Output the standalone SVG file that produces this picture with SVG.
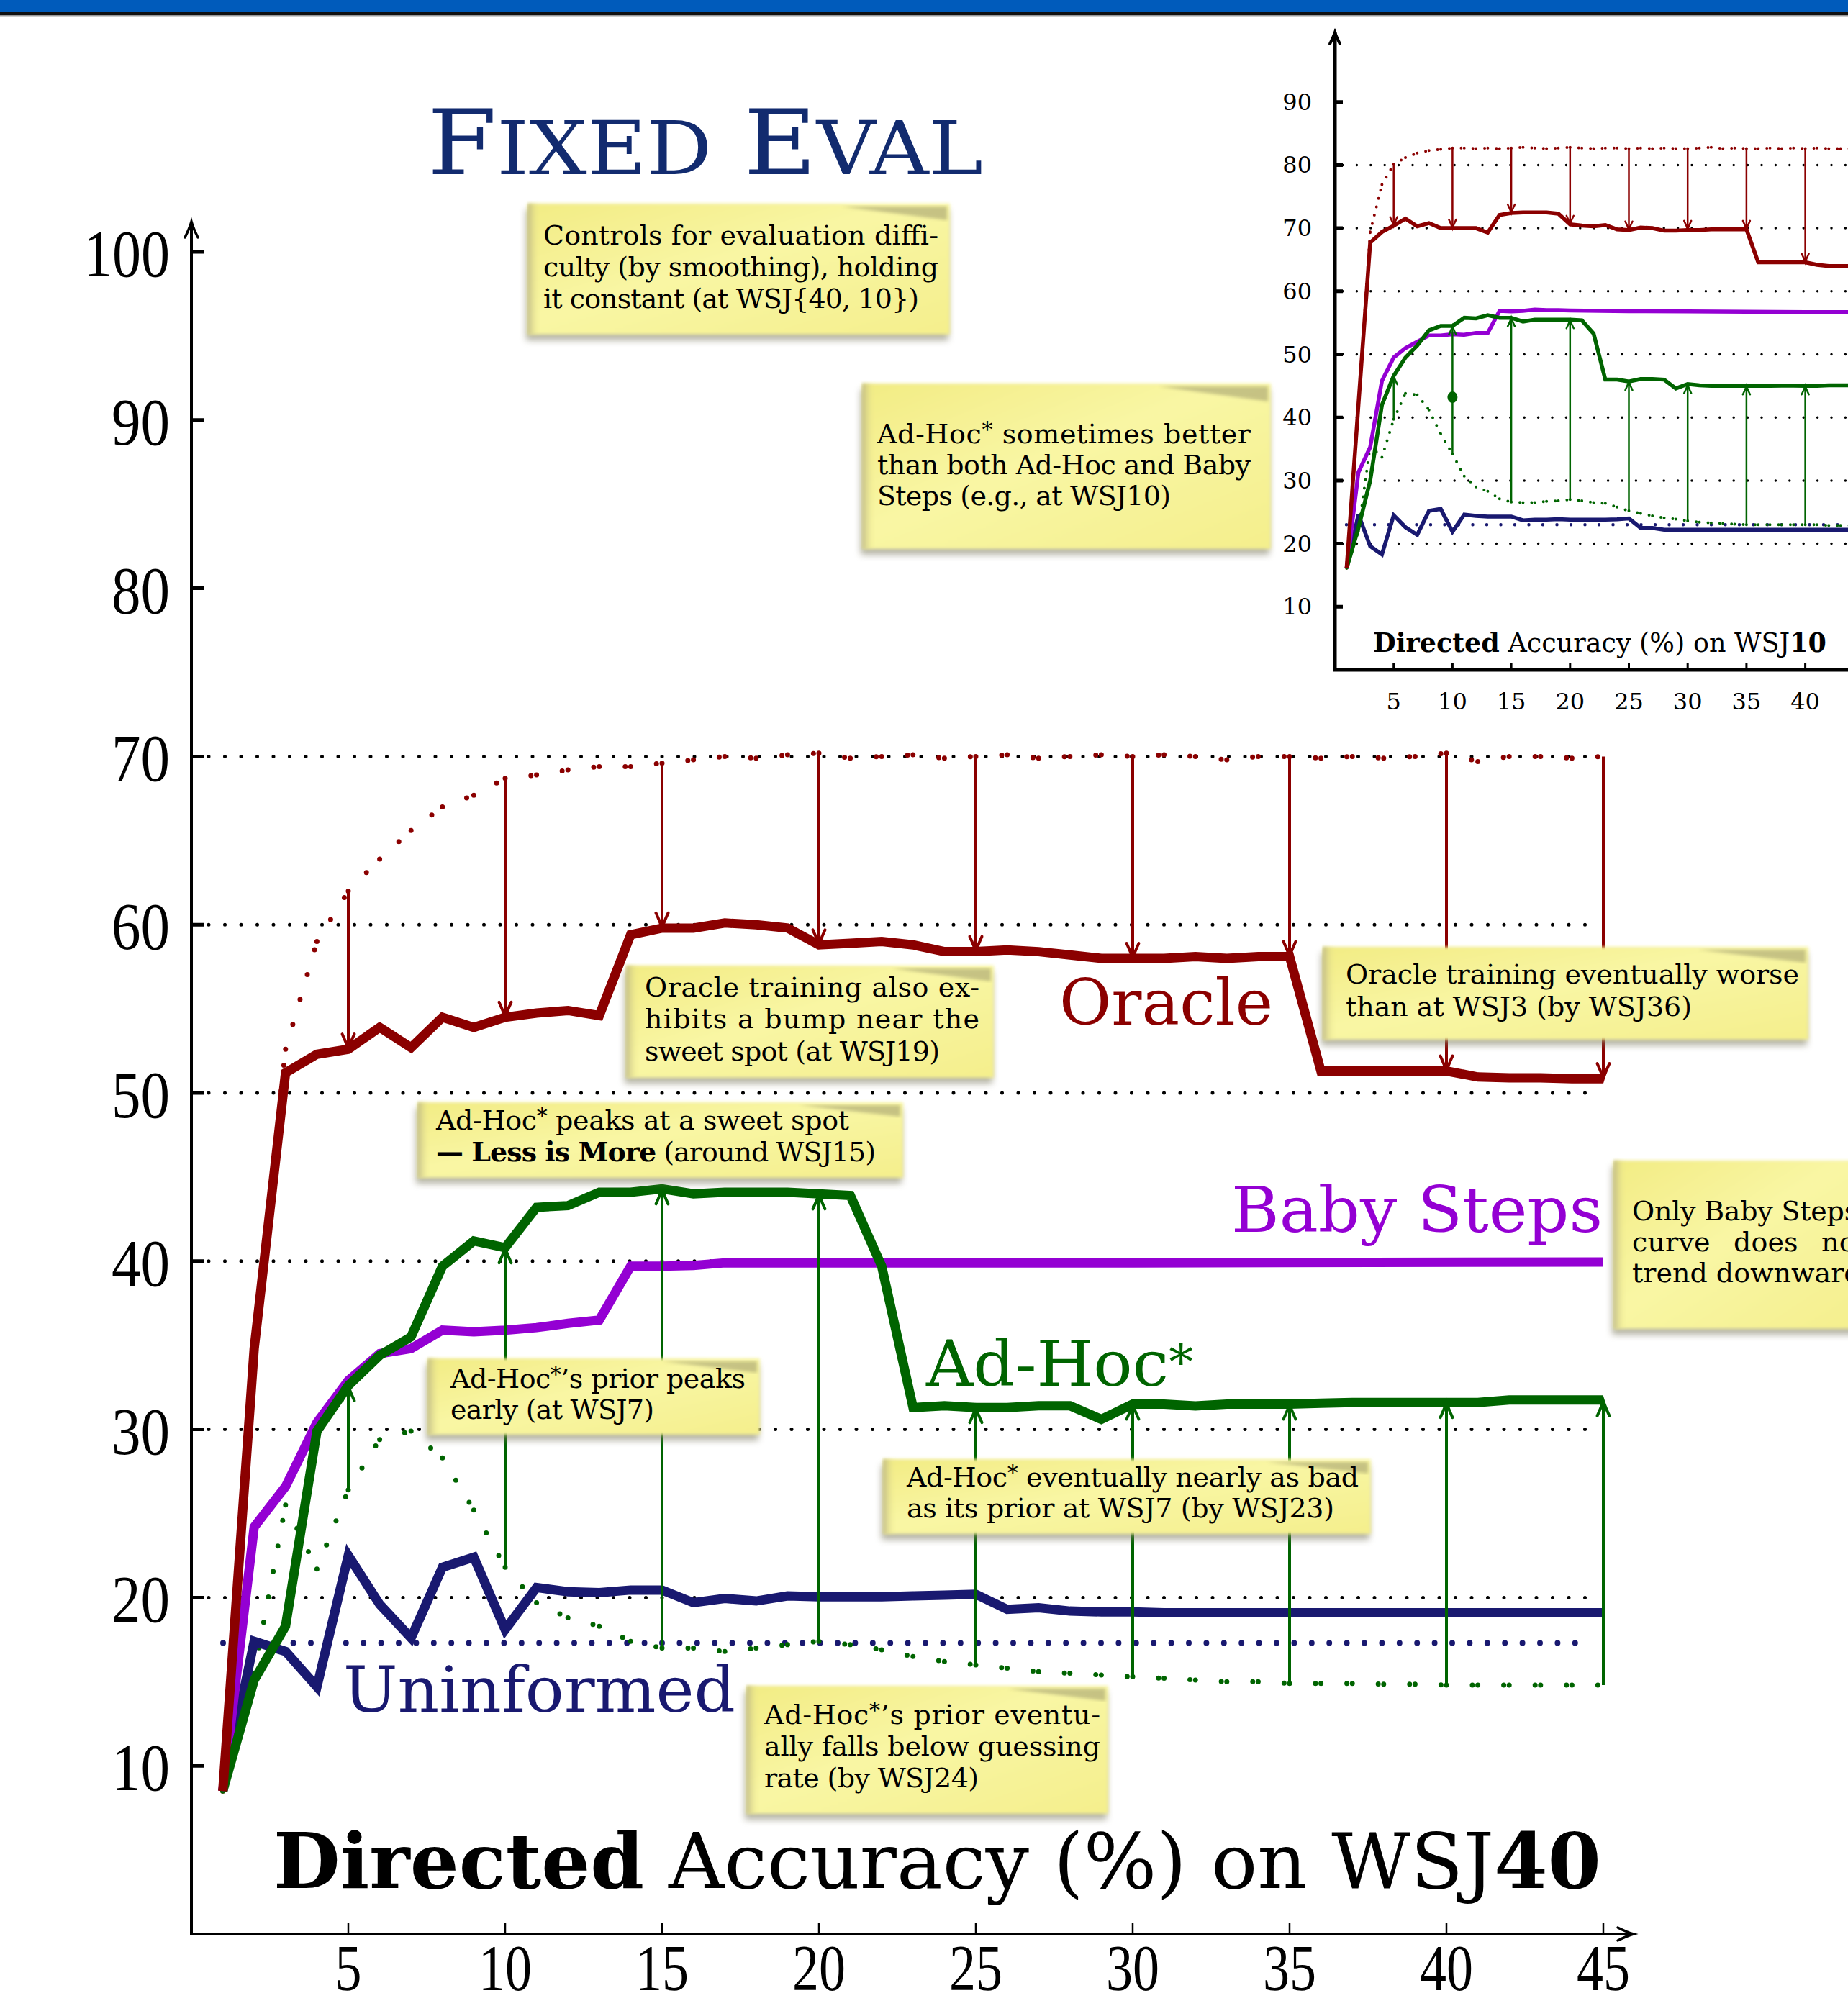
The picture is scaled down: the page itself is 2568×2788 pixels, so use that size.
<svg xmlns="http://www.w3.org/2000/svg" width="2568" height="2788" viewBox="0 0 2568 2788">
<style>
.ax{stroke:#000;fill:none}
.grid{stroke:#000;stroke-width:5;stroke-linecap:round;stroke-dasharray:0 22.5;fill:none}
.gridi{stroke:#000;stroke-width:3.5;stroke-linecap:round;stroke-dasharray:0 19.4;fill:none}
.c{fill:none;vector-effect:non-scaling-stroke;stroke-linejoin:miter;stroke-miterlimit:3}
.thick{stroke-width:13}
.thin{stroke-width:5.5}
.dot{stroke-width:7;stroke-linecap:round;stroke-dasharray:0 36}
.doti{stroke-width:4;stroke-linecap:round;stroke-dasharray:0 12}
.or{stroke:#8b0000}.bs{stroke:#9400d3}.ah{stroke:#006400}.un{stroke:#191970}
.arR{stroke:#8b0000;stroke-width:4;marker-end:url(#mR)}
.arG{stroke:#006400;stroke-width:4;marker-end:url(#mG)}
.arRi{stroke:#8b0000;stroke-width:2.5;marker-end:url(#mRi)}
.arGi{stroke:#006400;stroke-width:2.5;marker-end:url(#mGi)}
.nsh{fill:#77745a;opacity:.55;filter:url(#b5)}
.nbd{fill:url(#ng);filter:url(#b2)}
.nlf{fill:url(#nl);filter:url(#b2)}
.ncl{fill:#8a8660;opacity:.45;filter:url(#b2)}
.nt{font-family:"DejaVu Serif",serif;font-size:38px;fill:#000}
.tk{font-family:"Liberation Serif",serif;font-size:93px;fill:#000}
.tkx{font-family:"Liberation Serif",serif;font-size:90px;fill:#000}
.tki{font-family:"DejaVu Serif",serif;font-size:32px;fill:#000}
.lbl{font-family:"DejaVu Serif",serif;font-size:88px}
</style>
<defs>
<linearGradient id="ng" x1="0" y1="0" x2="1" y2="1">
<stop offset="0" stop-color="#f2ec84"/><stop offset=".45" stop-color="#f9f6a4"/><stop offset="1" stop-color="#f4ef8c"/>
</linearGradient>
<linearGradient id="nl" x1="0" y1="0" x2="1" y2="0">
<stop offset="0" stop-color="#b3ad86" stop-opacity=".8"/><stop offset="1" stop-color="#f4ef8c" stop-opacity="0"/>
</linearGradient>
<filter id="b5" x="-10%" y="-20%" width="120%" height="140%"><feGaussianBlur stdDeviation="5"/></filter>
<filter id="b2" x="-5%" y="-10%" width="110%" height="120%"><feGaussianBlur stdDeviation="2"/></filter>
<marker id="mR" markerUnits="userSpaceOnUse" orient="auto" overflow="visible" markerWidth="1" markerHeight="1"><path d="M-21,-8.5 Q-8,-2.5 0,0 Q-8,2.5 -21,8.5" fill="none" stroke="#8b0000" stroke-width="4" stroke-linecap="round"/></marker>
<marker id="mG" markerUnits="userSpaceOnUse" orient="auto" overflow="visible" markerWidth="1" markerHeight="1"><path d="M-21,-8.5 Q-8,-2.5 0,0 Q-8,2.5 -21,8.5" fill="none" stroke="#006400" stroke-width="4" stroke-linecap="round"/></marker>
<marker id="mRi" markerUnits="userSpaceOnUse" orient="auto" overflow="visible" markerWidth="1" markerHeight="1"><path d="M-12,-5 Q-5,-1.5 0,0 Q-5,1.5 -12,5" fill="none" stroke="#8b0000" stroke-width="2.5" stroke-linecap="round"/></marker>
<marker id="mGi" markerUnits="userSpaceOnUse" orient="auto" overflow="visible" markerWidth="1" markerHeight="1"><path d="M-12,-5 Q-5,-1.5 0,0 Q-5,1.5 -12,5" fill="none" stroke="#006400" stroke-width="2.5" stroke-linecap="round"/></marker>
<marker id="mK" markerUnits="userSpaceOnUse" orient="auto" overflow="visible" markerWidth="1" markerHeight="1"><path d="M-22,-9 Q-9,-2.5 0,0 Q-9,2.5 -22,9" fill="none" stroke="#000" stroke-width="3.5" stroke-linecap="round"/></marker>
<marker id="mKi" markerUnits="userSpaceOnUse" orient="auto" overflow="visible" markerWidth="1" markerHeight="1"><path d="M-16,-7 Q-6,-2 0,0 Q-6,2 -16,7" fill="none" stroke="#000" stroke-width="4" stroke-linecap="round"/></marker>
</defs>
<rect width="2568" height="2788" fill="#fff"/>
<g id="header">
<rect x="0" y="0" width="2568" height="17" fill="#005bbb"/>
<rect x="0" y="17" width="2568" height="4" fill="#111"/>
<rect x="0" y="21" width="2568" height="1.5" fill="#999"/>
</g>
<g id="title"><text x="594" y="242" font-family="DejaVu Serif,serif" font-size="126" fill="#122b6f" textLength="772" lengthAdjust="spacingAndGlyphs">F<tspan font-size="103">IXED</tspan> E<tspan font-size="103">VAL</tspan></text></g>

<!-- ============ INSET CHART ============ -->
<g id="inset">
<g id="inset-grid">
<path class="gridi" d="M1866 229.4H2568M1866 317.1H2568M1866 404.8H2568M1866 492.5H2568M1866 580.2H2568M1866 667.9H2568M1866 755.6H2568"/>
<path class="gridi" style="stroke:#191970;stroke-width:4.5;stroke-dasharray:0 19.5" d="M1871 729.3H2568"/>
</g>
<g id="inset-axes">
<path class="ax" stroke-width="5" d="M1855 931V45" marker-end="url(#mKi)"/>
<path class="ax" stroke-width="5" d="M1852.5 931H2568"/>
<path class="ax" stroke-width="5" d="M1855 141.7h11M1855 229.4h11M1855 317.1h11M1855 404.8h11M1855 492.5h11M1855 580.2h11M1855 667.9h11M1855 755.6h11M1855 843.3h11"/>
<path class="ax" stroke-width="3" d="M1936.7 931v-9M2018.4 931v-9M2100.1 931v-9M2181.8 931v-9M2263.5 931v-9M2345.2 931v-9M2426.9 931v-9M2508.6 931v-9"/>
<g class="tki" text-anchor="end">
<text x="1823" y="152.7">90</text><text x="1823" y="240.4">80</text><text x="1823" y="328.1">70</text><text x="1823" y="415.8">60</text><text x="1823" y="503.5">50</text><text x="1823" y="591.2">40</text><text x="1823" y="678.9">30</text><text x="1823" y="766.6">20</text><text x="1823" y="854.3">10</text>
</g>
<g class="tki" text-anchor="middle">
<text x="1936.7" y="986">5</text><text x="2018.4" y="986">10</text><text x="2100.1" y="986">15</text><text x="2181.8" y="986">20</text><text x="2263.5" y="986">25</text><text x="2345.2" y="986">30</text><text x="2426.9" y="986">35</text><text x="2508.6" y="986">40</text>
</g>
<text x="1908" y="906" font-family="DejaVu Serif,serif" font-size="37" textLength="630" lengthAdjust="spacingAndGlyphs"><tspan font-weight="bold">Directed</tspan> Accuracy (%) on WSJ<tspan font-weight="bold">10</tspan></text>
</g>
<g id="inset-curves" transform="translate(1855,931) scale(16.34,-8.77)">
<path class="c doti or" d="M1 16.1L2 42M2 42L3 69.4M3 69.4L4 76.9M4 76.9L5 80.1M5 80.1L6 81.2M6 81.2L7 81.9M7 81.9L8 82.3M8 82.3L9 82.5M9 82.5L10 82.7M10 82.7L11 82.7M11 82.7L12 82.6M12 82.6L13 82.7M13 82.7L14 82.6M14 82.6L15 82.7M15 82.7L16 82.8M16 82.8L17 82.7M17 82.7L18 82.6M18 82.6L19 82.7M19 82.7L20 82.8M20 82.8L21 82.7M21 82.7L22 82.6M22 82.6L23 82.7M23 82.7L24 82.7M24 82.7L25 82.6M25 82.6L26 82.7M26 82.7L27 82.6M27 82.6L28 82.7M28 82.7L29 82.6M29 82.6L30 82.6M30 82.6L31 82.7M31 82.7L32 82.8M32 82.8L33 82.6M33 82.6L34 82.7M34 82.7L35 82.6M35 82.6L36 82.6M36 82.6L37 82.7M37 82.7L38 82.6M38 82.6L39 82.7M39 82.7L40 82.6M40 82.6L41 82.7M41 82.7L42 82.6M42 82.6L43 82.6M43 82.6L44 82.6M44 82.6L45 82.6"/>
<path class="c doti ah" d="M1 16.1L2 22M2 22L3 35.5M3 35.5L4 33.7M4 33.7L5 39.7M5 39.7L6 43.8M6 43.8L7 43.6M7 43.6L8 41.2M8 41.2L9 37.4M9 37.4L10 34.2M10 34.2L11 30.7M11 30.7L12 29M12 29L13 28.3M13 28.3L14 27.1M14 27.1L15 26.6M15 26.6L16 26.5M16 26.5L17 26.5M17 26.5L18 26.7M18 26.7L19 26.8M19 26.8L20 27M20 27L21 26.8M21 26.8L22 26.5M22 26.5L23 26.4M23 26.4L24 25.8M24 25.8L25 25.2M25 25.2L26 24.8M26 24.8L27 24.4M27 24.4L28 24.1M28 24.1L29 23.9M29 23.9L30 23.6M30 23.6L31 23.4M31 23.4L32 23.3M32 23.3L33 23.2M33 23.2L34 23.1M34 23.1L35 23M35 23L36 23M36 23L37 23M37 23L38 23M38 23L39 23M39 23L40 23M40 23L41 23M41 23L42 22.9M42 22.9L43 22.9M43 22.9L44 22.9M44 22.9L45 22.9"/>
<path class="c thin un" d="M1 16.1L2 24.6L3 19.6L4 18.3L5 24.5L6 22.6L7 21.4L8 25.2L9 25.5L10 21.9L11 24.6L12 24.4L13 24.3L14 24.3L15 24.3L16 23.7L17 23.8L18 23.8L19 23.9L20 23.8L21 23.8L22 23.8L23 23.8L24 23.85L25 24L26 22.5L27 22.5L28 22.2L29 22.2L30 22.2L35 22.2L40 22.2L45 22.2"/>
<path class="c thin bs" d="M1 16.1L2 31.3L3 35.3L4 45.8L5 49.5L6 51L7 52L8 53L9 53L10 53.2L11 53.1L12 53.4L13 53.4L14 56.9L15 56.8L16 56.9L17 57.1L18 57L19 57L20 56.95L25 56.85L30 56.8L35 56.75L40 56.7L45 56.7"/>
<path class="c thin ah" d="M1 16.1L2 22.5L3 30L4 42L5 46.6L6 49.5L7 51.4L8 53.8L9 54.5L10 54.5L11 55.8L12 55.7L13 56.2L14 55.8L15 55.8L16 55.2L17 55.5L18 55.5L19 55.5L20 55.5L21 55.4L22 53.3L23 46L24 46L25 45.7L26 46.1L27 46.1L28 46L29 44.6L30 45.3L31 45.1L32 45L37 45L38 45.05L39 45.05L40 45L41 45L42 45.1L45 45.1"/>
<path class="c thin or" d="M1 16.1L2 42L3 67.7L4 69.4L5 70.4L6 71.5L7 70.3L8 70.8L9 70L10 70L11 70L12 70L13 69.3L14 72.1L15 72.4L16 72.5L17 72.5L18 72.5L19 72.3L20 70.6L21 70.4L22 70.3L23 70.5L24 69.8L25 69.7L26 70.1L27 70L28 69.6L29 69.6L30 69.7L31 69.7L32 69.8L33 69.8L34 69.8L35 69.8L36 64.6L37 64.6L38 64.6L39 64.6L40 64.6L41 64.2L42 64L43 64L44 64L45 63.9"/>
</g>
<g id="inset-arrows">
<path class="arRi" d="M1936.7 228.5V313.6"/><path class="arRi" d="M2018.4 205.7V317.1"/><path class="arRi" d="M2100.1 205.7V296"/><path class="arRi" d="M2181.8 204.8V311.8"/><path class="arRi" d="M2263.5 206.6V319.7"/><path class="arRi" d="M2345.2 206.6V318.9"/><path class="arRi" d="M2426.9 206.6V318.9"/><path class="arRi" d="M2508.6 206.6V364.5"/>
<path class="arGi" d="M1936.7 582.8V522.3"/><path class="arGi" d="M2018.4 631.1V453"/><path class="arGi" d="M2100.1 697.7V441.6"/><path class="arGi" d="M2181.8 694.2V444.3"/><path class="arGi" d="M2263.5 710V530.2"/><path class="arGi" d="M2345.2 724V534.6"/><path class="arGi" d="M2426.9 729.3V536.3"/><path class="arGi" d="M2508.6 729.3V536.3"/>
<ellipse cx="2018.4" cy="552.1" rx="7" ry="8" fill="#006400"/>
</g>
</g>

<!-- ============ MAIN CHART ============ -->
<g id="main-grid">
<path class="grid" d="M290 1051.4H2212M290 1285.2H2212M290 1519H2212M290 1752.8H2212M290 1986.6H2212M290 2220.4H2212"/>
<path d="M310 2283.5H2208" fill="none" stroke="#191970" stroke-width="8" stroke-linecap="round" stroke-dasharray="0 24.4"/>
</g>
<g id="main-axes">
<path class="ax" stroke-width="4" d="M266 2690V308" marker-end="url(#mK)"/>
<path class="ax" stroke-width="4" d="M264 2688H2270" marker-end="url(#mK)"/>
<path class="ax" stroke-width="5" d="M266 350h18M266 583.8h18M266 817.6h18M266 1051.4h18M266 1285.2h18M266 1519h18M266 1752.8h18M266 1986.6h18M266 2220.4h18M266 2454.2h18"/>
<path class="ax" stroke-width="2.5" d="M484 2688v-16M702 2688v-16M920 2688v-16M1138 2688v-16M1356 2688v-16M1574 2688v-16M1792 2688v-16M2010 2688v-16M2228 2688v-16"/>
<g class="tk" text-anchor="end">
<text x="236" y="384" textLength="120" lengthAdjust="spacingAndGlyphs">100</text>
<text x="236" y="617.8" textLength="81" lengthAdjust="spacingAndGlyphs">90</text>
<text x="236" y="851.6" textLength="81" lengthAdjust="spacingAndGlyphs">80</text>
<text x="236" y="1085.4" textLength="81" lengthAdjust="spacingAndGlyphs">70</text>
<text x="236" y="1319.2" textLength="81" lengthAdjust="spacingAndGlyphs">60</text>
<text x="236" y="1553" textLength="81" lengthAdjust="spacingAndGlyphs">50</text>
<text x="236" y="1786.8" textLength="81" lengthAdjust="spacingAndGlyphs">40</text>
<text x="236" y="2020.6" textLength="81" lengthAdjust="spacingAndGlyphs">30</text>
<text x="236" y="2254.4" textLength="81" lengthAdjust="spacingAndGlyphs">20</text>
<text x="236" y="2488.2" textLength="81" lengthAdjust="spacingAndGlyphs">10</text>
</g>
<g class="tkx" text-anchor="middle">
<text x="484" y="2766" textLength="37" lengthAdjust="spacingAndGlyphs">5</text>
<text x="702" y="2766" textLength="74" lengthAdjust="spacingAndGlyphs">10</text>
<text x="920" y="2766" textLength="74" lengthAdjust="spacingAndGlyphs">15</text>
<text x="1138" y="2766" textLength="74" lengthAdjust="spacingAndGlyphs">20</text>
<text x="1356" y="2766" textLength="74" lengthAdjust="spacingAndGlyphs">25</text>
<text x="1574" y="2766" textLength="74" lengthAdjust="spacingAndGlyphs">30</text>
<text x="1792" y="2766" textLength="74" lengthAdjust="spacingAndGlyphs">35</text>
<text x="2010" y="2766" textLength="74" lengthAdjust="spacingAndGlyphs">40</text>
<text x="2228" y="2766" textLength="74" lengthAdjust="spacingAndGlyphs">45</text>
</g>
<text id="xlabel" x="380" y="2624" font-family="DejaVu Serif,serif" font-size="106" textLength="1845" lengthAdjust="spacingAndGlyphs"><tspan font-weight="bold">Directed</tspan> Accuracy (%) on WSJ<tspan font-weight="bold">40</tspan></text>
</g>
<g id="main-curves" transform="translate(266,2688) scale(43.6,-23.38)">
<path id="oracle-bound" class="c dot or" d="M1 8.5L2 34.8M2 34.8L3 52.6M3 52.6L4 59M4 59L5 62M5 62L6 63.9M6 63.9L7 65.6M7 65.6L8 67M8 67L9 67.7M9 67.7L10 68.7M10 68.7L11 68.9M11 68.9L12 69.2M12 69.2L13 69.4M13 69.4L14 69.4M14 69.4L15 69.6M15 69.6L16 69.8M16 69.8L17 70M17 70L18 69.9M18 69.9L19 70.1M19 70.1L20 70.2M20 70.2L21 69.9M21 69.9L22 70M22 70L23 70.1M23 70.1L24 69.9M24 69.9L25 70M25 70L26 70.1M26 70.1L27 69.9M27 69.9L28 70M28 70L29 70.1M29 70.1L30 70M30 70L31 70.1M31 70.1L32 70M32 70L33 69.8M33 69.8L34 70M34 70L35 70M35 70L36 69.9M36 69.9L37 70M37 70L38 69.9M38 69.9L39 70M39 70L40 70.2M40 70.2L41 69.7M41 69.7L42 70M42 70L43 70M43 70L44 69.9M44 69.9L45 70"/>
<path id="adhoc-prior" class="c dot ah" d="M1 8.5L2 15.5M2 15.5L3 25.5M3 25.5L4 21.7M4 21.7L5 26.4M5 26.4L6 29.4M6 29.4L7 29.9M7 29.9L8 28.3M8 28.3L9 25.2M9 25.2L10 21.8M10 21.8L11 19.7M11 19.7L12 18.8M12 18.8L13 18.3M13 18.3L14 17.4M14 17.4L15 17M15 17L16 17M16 17L17 16.8M17 16.8L18 17M18 17L19 17.2M19 17.2L20 17.4M20 17.4L21 17.2M21 17.2L22 16.9M22 16.9L23 16.5M23 16.5L24 16.2M24 16.2L25 16M25 16L26 15.8M26 15.8L27 15.6M27 15.6L28 15.5M28 15.5L29 15.4M29 15.4L30 15.3M30 15.3L31 15.2M31 15.2L32 15.1M32 15.1L33 15M33 15L34 15M34 15L35 14.9M35 14.9L36 14.9M36 14.9L37 14.9M37 14.9L38 14.85M38 14.85L39 14.85M39 14.85L40 14.8M40 14.8L41 14.8M41 14.8L42 14.8M42 14.8L43 14.8M43 14.8L44 14.8M44 14.8L45 14.8"/>
<path id="uninformed" class="c thick un" d="M1 8.5L2 17.4L3 16.8L4 14.7L5 22.5L6 19.6L7 17.6L8 21.8L9 22.4L10 18.1L11 20.6L12 20.35L13 20.3L14 20.45L15 20.45L16 19.7L17 19.95L18 19.8L19 20.1L20 20.05L21 20.05L22 20.05L23 20.1L24 20.15L25 20.2L26 19.3L27 19.4L28 19.2L29 19.15L30 19.15L31 19.1L45 19.1"/>
<path id="babysteps" class="c thick bs" d="M1 8.5L2 24.2L3 26.6L4 30.4L5 32.9L6 34.5L7 34.8L8 35.9L9 35.8L10 35.9L11 36.05L12 36.3L13 36.5L14 39.7L15 39.7L16 39.75L17 39.9L30 39.9L45 39.95"/>
<path id="adhoc" class="c thick ah" d="M1 8.5L2 15.1L3 18.3L4 29.9L5 32.6L6 34.4L7 35.5L8 39.7L9 41.2L10 40.8L11 43.2L12 43.3L13 44.1L14 44.1L15 44.3L16 44L17 44.1L18 44.1L19 44.1L20 44L21 43.9L22 39.7L23 31.3L24 31.4L25 31.3L26 31.3L27 31.4L28 31.4L29 30.6L30 31.5L31 31.5L32 31.4L33 31.5L34 31.5L35 31.5L36 31.55L37 31.6L41 31.6L42 31.75L45 31.75"/>
<path id="oracle" class="c thick or" d="M1 8.5L2 34.8L3 51.2L4 52.3L5 52.6L6 53.9L7 52.7L8 54.5L9 53.9L10 54.5L11 54.75L12 54.9L13 54.6L14 59.4L15 59.8L16 59.8L17 60.1L18 60L19 59.8L20 58.8L21 58.9L22 59L23 58.8L24 58.4L25 58.4L26 58.5L27 58.4L28 58.2L29 58L30 58L31 58L32 58.1L33 58L34 58.1L35 58.1L36 51.3L37 51.3L38 51.3L39 51.3L40 51.3L41 50.95L42 50.9L43 50.9L44 50.85L45 50.85"/>
</g>
<g id="main-arrows">
<path class="arR" d="M484 1238.4V1458.2"/><path class="arR" d="M702 1081.8V1413.8"/><path class="arR" d="M920 1060.8V1289.9"/><path class="arR" d="M1138 1046.7V1313.3"/><path class="arR" d="M1356 1051.4V1322.6"/><path class="arR" d="M1574 1051.4V1332"/><path class="arR" d="M1792 1051.4V1329.6"/><path class="arR" d="M2010 1046.7V1488.6"/><path class="arR" d="M2228 1051.4V1499.1"/>
<path class="arG" d="M484 2070.8V1925.8"/><path class="arG" d="M702 2178.3V1734.1"/><path class="arG" d="M920 2290.5V1652.3"/><path class="arG" d="M1138 2281.2V1659.3"/><path class="arG" d="M1356 2313.9V1956.2"/><path class="arG" d="M1574 2330.3V1951.5"/><path class="arG" d="M1792 2339.6V1951.5"/><path class="arG" d="M2010 2342V1949.2"/><path class="arG" d="M2228 2342V1946.9"/>
</g>

<!-- ============ NOTES ============ -->
<g id="note-controls">
<rect class="nsh" x="731" y="291" width="587" height="182"/>
<rect class="nbd" x="733" y="283" width="587" height="182"/>
<rect class="nlf" x="733" y="283" width="18" height="182"/>
<path class="ncl" d="M1170 287L1316 287L1316 306Z"/>
<g class="nt"><text x="755" y="340" textLength="549" lengthAdjust="spacing">Controls for evaluation diffi-</text><text x="755" y="384" textLength="549" lengthAdjust="spacing">culty (by smoothing), holding</text><text x="755" y="428" textLength="522" lengthAdjust="spacing">it constant (at WSJ{40, 10})</text></g>
</g>
<g id="note-better">
<rect class="nsh" x="1196" y="541" width="568" height="230"/>
<rect class="nbd" x="1198" y="533" width="568" height="230"/>
<rect class="nlf" x="1198" y="533" width="18" height="230"/>
<path class="ncl" d="M1610 537L1762 537L1762 558Z"/>
<g class="nt"><text x="1219" y="616" textLength="519" lengthAdjust="spacing">Ad-Hoc<tspan font-size="30" dy="-9">*</tspan><tspan dy="9"> sometimes better</tspan></text><text x="1219" y="659" textLength="519" lengthAdjust="spacing">than both Ad-Hoc and Baby</text><text x="1219" y="702" textLength="408" lengthAdjust="spacing">Steps (e.g., at WSJ10)</text></g>
</g>
<g id="note-bump">
<rect class="nsh" x="868" y="1350" width="511" height="156"/>
<rect class="nbd" x="870" y="1342" width="511" height="156"/>
<rect class="nlf" x="870" y="1342" width="18" height="156"/>
<path class="ncl" d="M1240 1346L1377 1346L1377 1364Z"/>
<g class="nt"><text x="896" y="1385" textLength="465" lengthAdjust="spacing">Oracle training also ex-</text><text x="896" y="1429" textLength="465" lengthAdjust="spacing">hibits a bump near the</text><text x="896" y="1474" textLength="410" lengthAdjust="spacing">sweet spot (at WSJ19)</text></g>
</g>
<g id="note-worse">
<rect class="nsh" x="1836" y="1324" width="675" height="129"/>
<rect class="nbd" x="1838" y="1316" width="675" height="129"/>
<rect class="nlf" x="1838" y="1316" width="18" height="129"/>
<path class="ncl" d="M2360 1320L2509 1320L2509 1338Z"/>
<g class="nt"><text x="1870" y="1367" textLength="630" lengthAdjust="spacing">Oracle training eventually worse</text><text x="1870" y="1412" textLength="481" lengthAdjust="spacing">than at WSJ3 (by WSJ36)</text></g>
</g>
<g id="note-lessismore">
<rect class="nsh" x="578" y="1540" width="675" height="105"/>
<rect class="nbd" x="580" y="1532" width="675" height="105"/>
<rect class="nlf" x="580" y="1532" width="18" height="105"/>
<path class="ncl" d="M1110 1536L1251 1536L1251 1552Z"/>
<g class="nt"><text x="606" y="1570" textLength="574" lengthAdjust="spacing">Ad-Hoc<tspan font-size="30" dy="-9">*</tspan><tspan dy="9"> peaks at a sweet spot</tspan></text><text x="606" y="1614" textLength="611" lengthAdjust="spacing"><tspan font-weight="bold">— Less is More</tspan> (around WSJ15)</text></g>
</g>
<g id="note-babysteps">
<rect class="nsh" x="2240" y="1621" width="360" height="234"/>
<rect class="nbd" x="2242" y="1613" width="360" height="234"/>
<rect class="nlf" x="2242" y="1613" width="18" height="234"/>
<g class="nt"><text x="2268" y="1696" textLength="326" lengthAdjust="spacing">Only Baby Steps’</text><text x="2268" y="1739" word-spacing="20" textLength="326" lengthAdjust="spacing">curve does not</text><text x="2268" y="1782">trend downward</text></g>
</g>
<g id="note-priorpeaks">
<rect class="nsh" x="592" y="1896" width="462" height="106"/>
<rect class="nbd" x="594" y="1888" width="462" height="106"/>
<rect class="nlf" x="594" y="1888" width="18" height="106"/>
<path class="ncl" d="M920 1892L1052 1892L1052 1908Z"/>
<g class="nt"><text x="626" y="1929" textLength="410" lengthAdjust="spacing">Ad-Hoc<tspan font-size="30" dy="-9">*</tspan><tspan dy="9">’s prior peaks</tspan></text><text x="626" y="1972" textLength="283" lengthAdjust="spacing">early (at WSJ7)</text></g>
</g>
<g id="note-nearlybad">
<rect class="nsh" x="1225" y="2036" width="678" height="104"/>
<rect class="nbd" x="1227" y="2028" width="678" height="104"/>
<rect class="nlf" x="1227" y="2028" width="18" height="104"/>
<path class="ncl" d="M1760 2032L1901 2032L1901 2048Z"/>
<g class="nt"><text x="1260" y="2066" textLength="628" lengthAdjust="spacing">Ad-Hoc<tspan font-size="30" dy="-9">*</tspan><tspan dy="9"> eventually nearly as bad</tspan></text><text x="1260" y="2109" textLength="594" lengthAdjust="spacing">as its prior at WSJ7 (by WSJ23)</text></g>
</g>
<g id="note-guessing">
<rect class="nsh" x="1035" y="2351" width="503" height="178"/>
<rect class="nbd" x="1037" y="2343" width="503" height="178"/>
<rect class="nlf" x="1037" y="2343" width="18" height="178"/>
<path class="ncl" d="M1400 2347L1536 2347L1536 2364Z"/>
<g class="nt"><text x="1062" y="2396" textLength="467" lengthAdjust="spacing">Ad-Hoc<tspan font-size="30" dy="-9">*</tspan><tspan dy="9">’s prior eventu-</tspan></text><text x="1062" y="2440" textLength="467" lengthAdjust="spacing">ally falls below guessing</text><text x="1062" y="2484" textLength="298" lengthAdjust="spacing">rate (by WSJ24)</text></g>
</g>

<!-- ============ CURVE LABELS ============ -->
<g id="labels" class="lbl">
<text id="lbl-oracle" x="1472" y="1424" fill="#8b0000" textLength="297" lengthAdjust="spacingAndGlyphs">Oracle</text>
<text id="lbl-babysteps" x="1711" y="1712" fill="#9400d3" textLength="516" lengthAdjust="spacingAndGlyphs">Baby Steps</text>
<text id="lbl-adhoc" x="1287" y="1926" fill="#006400" textLength="371" lengthAdjust="spacingAndGlyphs">Ad-Hoc<tspan font-size="66" dy="-10">*</tspan></text>
<text id="lbl-uninformed" x="477" y="2379" fill="#191970" textLength="545" lengthAdjust="spacingAndGlyphs">Uninformed</text>
</g>
</svg>
